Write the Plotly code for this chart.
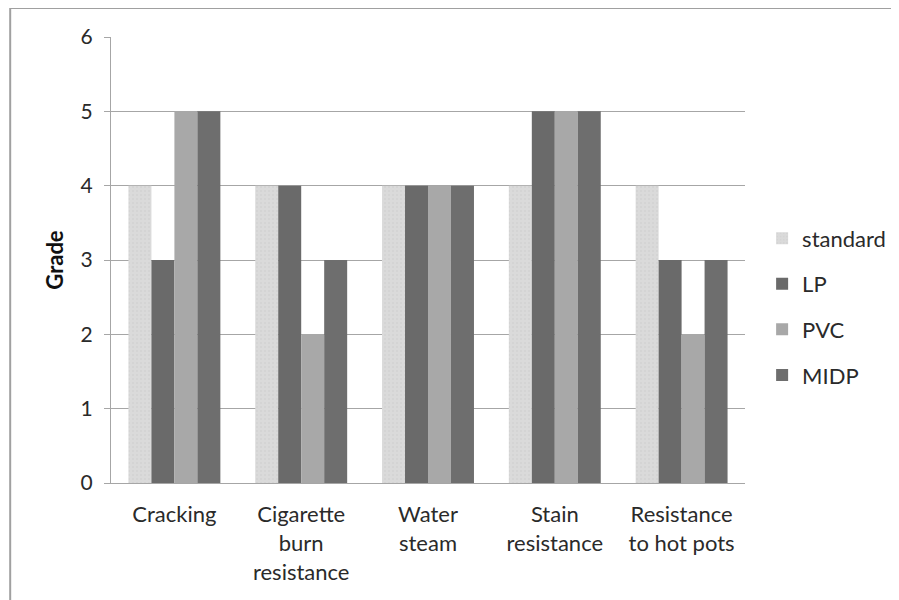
import plotly.graph_objects as go

categories = ["Cracking", "Cigarette<br>burn<br>resistance", "Water<br>steam",
              "Stain<br>resistance", "Resistance<br>to hot pots"]
series_names = ["standard", "LP", "PVC", "MIDP"]
standard = [4, 4, 4, 4, 4]
lp = [3, 4, 4, 5, 3]
pvc = [5, 2, 4, 5, 2]
midp = [5, 3, 4, 5, 3]
y_ticks = [0, 1, 2, 3, 4, 5, 6]

colors = ["#dadada", "#6a6a6a", "#a8a8a8", "#6e6e6e"]
values = [standard, lp, pvc, midp]

FONT = "Lato"
TXT = "#2a2a2a"
fig = go.Figure()
for i, (name, vals, col) in enumerate(zip(series_names, values, colors)):
    marker = dict(color=col, line=dict(width=0))
    if i == 0:
        marker["pattern"] = dict(shape=".", fgcolor="#cdcdcd", bgcolor=col, size=4, solidity=0.3)
    fig.add_trace(go.Bar(x=categories, y=vals, name=name, marker=marker,
                         legendgroup=name))

fig.update_layout(
    width=899, height=600,
    paper_bgcolor="white", plot_bgcolor="white",
    margin=dict(l=103, r=162, t=29, b=125),
    barmode="group", bargap=0.275, bargroupgap=0,
    font=dict(family=FONT, color=TXT),
    legend=dict(x=1.027, y=0.395, yanchor="middle", xanchor="left",
                font=dict(size=22, family=FONT, color=TXT),
                tracegroupgap=14, itemwidth=30, bgcolor="rgba(0,0,0,0)"),
    showlegend=True,
)
fig.update_yaxes(range=[0, 6], tickvals=y_ticks, showgrid=True, gridcolor="#a6a6a6",
                 gridwidth=1, showline=True, linecolor="#a6a6a6", linewidth=1,
                 ticks="outside", ticklen=6, tickcolor="#a6a6a6",
                 ticklabelstandoff=7,
                 tickfont=dict(size=21, family=FONT, color=TXT),
                 title=dict(text="<b>Grade</b>", font=dict(size=22, family=FONT, color="#111111"),
                            standoff=10),
                 zeroline=False)
fig.update_xaxes(showline=True, linecolor="#a6a6a6", linewidth=1, ticks="",
                 ticklabelstandoff=12,
                 tickfont=dict(size=22, family=FONT, color=TXT))

fig.add_shape(type="rect", xref="paper", yref="paper",
              x0=-0.159, y0=-0.3, x1=1.3, y1=1.065,
              line=dict(color="#a0a0a0", width=2), layer="below")

fig.write_html("out.html")
